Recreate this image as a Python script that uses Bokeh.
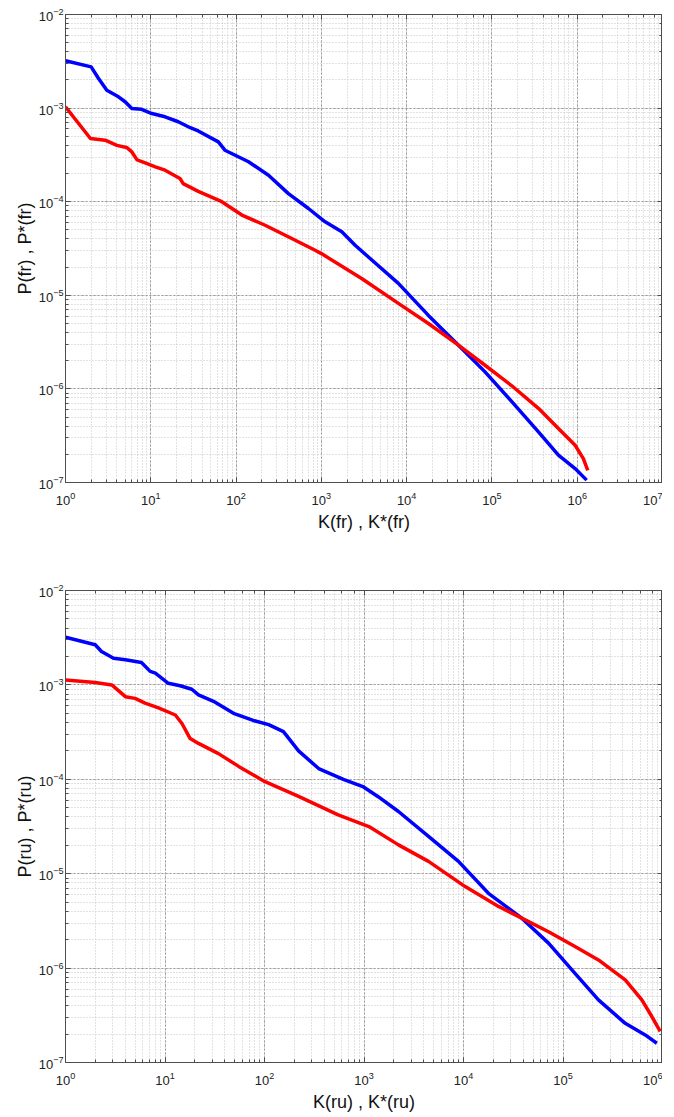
from bokeh.plotting import figure
from bokeh.layouts import column
from bokeh.models import LogAxis, LogTicker
from bokeh.embed import file_html
from bokeh.resources import INLINE

# ---- top panel (fr) ----
k_fr = [1, 2, 2.44, 3.05, 4.18, 5.0, 6.0, 7.8, 10.3, 14.7, 21, 29, 36, 62, 74, 140, 240,
        411, 706, 1107, 1737, 2490, 3730, 8000, 18000, 40500, 83000, 171000, 351000,
        602000, 945000, 1290000]
p_fr = [3.2e-3, 2.76e-3, 2.07e-3, 1.55e-3, 1.32e-3, 1.17e-3, 9.9e-4, 9.7e-4, 8.75e-4,
        8.07e-4, 7.15e-4, 6.17e-4, 5.7e-4, 4.36e-4, 3.55e-4, 2.67e-4, 1.92e-4, 1.22e-4,
        8.46e-5, 6.1e-5, 4.77e-5, 3.43e-5, 2.47e-5, 1.34e-5, 6.1e-6, 2.93e-6, 1.52e-6,
        7.3e-7, 3.48e-7, 1.96e-7, 1.41e-7, 1.06e-7]

kstar_fr = [1, 1.96, 2.92, 4, 5.2, 6, 6.9, 8.6, 11.3, 14.7, 22, 24, 36, 68, 117, 219, 450,
            845, 1000, 3000, 8000, 18000, 40500, 83000, 171000, 351000, 602000, 945000,
            1180000, 1330000]
pstar_fr = [1.03e-3, 4.73e-4, 4.54e-4, 4.0e-4, 3.8e-4, 3.4e-4, 2.8e-4, 2.6e-4, 2.36e-4,
            2.17e-4, 1.77e-4, 1.56e-4, 1.29e-4, 1.0e-4, 7.2e-5, 5.6e-5, 4.04e-5, 3.03e-5,
            2.79e-5, 1.5e-5, 8.2e-6, 5.0e-6, 2.93e-6, 1.79e-6, 1.08e-6, 6.2e-7, 3.78e-7,
            2.5e-7, 1.8e-7, 1.35e-7]

# ---- bottom panel (ru) ----
k_ru = [1, 1.99, 2.3, 3.04, 4, 5.8, 7.1, 8, 10.8, 14.2, 18.6, 21.7, 30.7, 48.8, 77, 110,
        155, 220, 350, 620, 990, 1400, 2220, 4450, 8900, 17800, 38500, 71500, 132000,
        227000, 422000, 670000, 877000]
p_ru = [3.2e-3, 2.66e-3, 2.26e-3, 1.92e-3, 1.85e-3, 1.73e-3, 1.39e-3, 1.33e-3, 1.04e-3,
        9.8e-4, 9.0e-4, 7.85e-4, 6.7e-4, 5.0e-4, 4.2e-4, 3.8e-4, 3.2e-4, 2.0e-4, 1.3e-4,
        1.0e-4, 8.3e-5, 6.5e-5, 4.56e-5, 2.48e-5, 1.35e-5, 6.2e-6, 3.38e-6, 1.84e-6,
        8.8e-7, 4.6e-7, 2.6e-7, 1.96e-7, 1.6e-7]

kstar_ru = [1, 1.99, 2.92, 4, 5, 6.3, 8.6, 12.7, 14.8, 17.9, 21.7, 34.5, 55, 100, 220, 550,
            1120, 2220, 4450, 10400, 22500, 38500, 71500, 132000, 227000, 422000, 620000,
            781000, 948000]
pstar_ru = [1.13e-3, 1.06e-3, 1.0e-3, 7.5e-4, 7.2e-4, 6.4e-4, 5.7e-4, 4.8e-4, 3.9e-4,
            2.7e-4, 2.4e-4, 1.87e-4, 1.37e-4, 9.5e-5, 6.6e-5, 4.2e-5, 3.16e-5, 2.02e-5,
            1.35e-5, 7.3e-6, 4.5e-6, 3.38e-6, 2.43e-6, 1.69e-6, 1.22e-6, 7.5e-7, 4.6e-7,
            3.07e-7, 2.14e-7]

FONT = "Liberation Sans"
AX = "#4d4d4d"


def style_ticks(ax):
    ax.major_tick_in = 5
    ax.major_tick_out = 0
    ax.minor_tick_in = 3
    ax.minor_tick_out = 0
    ax.axis_line_color = AX
    ax.major_tick_line_color = AX
    ax.minor_tick_line_color = AX


def make_panel(xs_b, ys_b, xs_r, ys_r, xmax, xlabel, ylabel, height,
               border_top, border_bottom):
    p = figure(x_axis_type="log", y_axis_type="log",
               x_range=(1, xmax), y_range=(1e-7, 1e-2),
               frame_width=597, frame_height=height,
               min_border_left=65, min_border_right=0, min_border_top=border_top,
               min_border_bottom=border_bottom,
               output_backend="svg", toolbar_location=None,
               background_fill_color="white", border_fill_color="white")
    p.outline_line_color = AX
    p.outline_line_width = 1

    xax = p.below[0]
    yax = p.left[0]
    for ax in (xax, yax):
        style_ticks(ax)
        ax.major_label_text_font = FONT
        ax.major_label_text_font_size = "13px"
        ax.major_label_text_color = "#222222"
        ax.axis_label_text_font = FONT
        ax.axis_label_text_font_size = "18px"
        ax.axis_label_text_font_style = "normal"
        ax.axis_label_text_color = "#111111"

    xax.axis_label = xlabel
    yax.axis_label = ylabel
    xax.major_label_standoff = 9
    xax.axis_label_standoff = 4
    yax.major_label_standoff = 2
    yax.axis_label_standoff = 1

    # extra tick-only axes on top/right (MATLAB box)
    for loc in ("above", "right"):
        ax = LogAxis(ticker=LogTicker())
        style_ticks(ax)
        ax.major_label_text_font_size = "1px"
        ax.major_label_text_alpha = 0
        ax.major_label_standoff = 0
        p.add_layout(ax, loc)

    for g in (p.xgrid[0], p.ygrid[0]):
        g.grid_line_color = "#9a9a9a"
        g.grid_line_dash = "2 2"
        g.grid_line_width = 1
        g.minor_grid_line_color = "#c4c4c4"
        g.minor_grid_line_dash = "1 2"
        g.minor_grid_line_width = 1

    p.line(xs_b, ys_b, line_color="#0000ff", line_width=3.5, line_join="round")
    p.line(xs_r, ys_r, line_color="#ff0000", line_width=3.5, line_join="round")
    return p


top = make_panel(k_fr, p_fr, kstar_fr, pstar_fr, 1e7,
                 "K(fr) , K*(fr)", "P(fr) , P*(fr)", 468, 14, 100)
bottom = make_panel(k_ru, p_ru, kstar_ru, pstar_ru, 1e6,
                    "K(ru) , K*(ru)", "P(ru) , P*(ru)", 472, 8, 45)

layout = column(top, bottom)
open("out.html", "w").write(file_html(layout, INLINE))
